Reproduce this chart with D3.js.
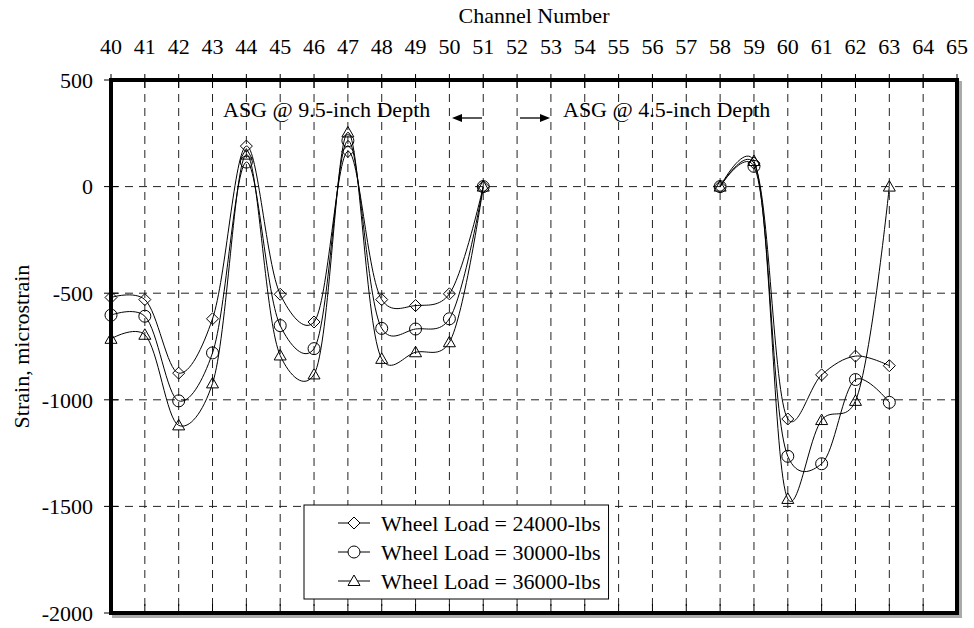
<!DOCTYPE html>
<html>
<head>
<meta charset="utf-8">
<script src="https://cdn.jsdelivr.net/npm/d3@7"></script>
<style>
  body { margin: 0; background: #fff; }
  text { font-family: "Liberation Serif", "Times New Roman", serif; fill: #000; }
  .tick-label { font-size: 22px; }
  .label { font-size: 22px; }
</style>
</head>
<body>
<svg id="chart" width="974" height="628"></svg>
<script>
// channels, two gauge groups (gap between 51 and 58)
const channelsDeep = [40, 41, 42, 43, 44, 45, 46, 47, 48, 49, 50, 51]
const channelsShallow = [58, 59, 60, 61, 62, 63]
const channelTicks = d3.range(40, 66)
const strainTicks = [500, 0, -500, -1000, -1500, -2000]

// strain, microstrain
const load24Deep = [-520, -530, -875, -620, 190, -505, -635, 165, -530, -558, -503, 0]
const load24Shallow = [0, 110, -1090, -883, -795, -840]
const load30Deep = [-603, -608, -1005, -780, 115, -652, -760, 215, -665, -668, -620, 0]
const load30Shallow = [0, 95, -1265, -1300, -905, -1012]
const load36Deep = [-714, -695, -1120, -923, 150, -792, -881, 254, -808, -777, -730, 0]
const load36Shallow = [0, 120, -1465, -1095, -1005, 0]

const seriesNames = ["Wheel Load = 24000-lbs", "Wheel Load = 30000-lbs", "Wheel Load = 36000-lbs"]
const seriesMarkers = ["diamond", "circle", "triangle"]

const series = [
    {name: seriesNames[0], marker: seriesMarkers[0], parts: [load24Deep, load24Shallow]},
    {name: seriesNames[1], marker: seriesMarkers[1], parts: [load30Deep, load30Shallow]},
    {name: seriesNames[2], marker: seriesMarkers[2], parts: [load36Deep, load36Shallow]}
]
const partChannels = [channelsDeep, channelsShallow]

const pLeft = 111, pRight = 957, pTop = 80, pBottom = 613

let xScale = d3.scaleLinear().domain([40, 65]).range([pLeft, pRight])
let yScale = d3.scaleLinear().domain([-2000, 500]).range([pBottom, pTop])

let svg = d3.select("#chart")

function markerPath(type, s) {
    if (type === "diamond") {
        return `M0,${-s}L${s},0L0,${s}L${-s},0Z`
    }
    if (type === "triangle") {
        return `M0,${-s}L${s},${s * 0.75}L${-s},${s * 0.75}Z`
    }
    return `M${s},0A${s},${s} 0 1,1 ${-s},0A${s},${s} 0 1,1 ${s},0Z`
}

// shadow + plot background
svg.append("rect")
    .attr("x", pLeft + 3).attr("y", pTop + 3)
    .attr("width", pRight - pLeft).attr("height", pBottom - pTop)
    .style("fill", "none").style("stroke", "#aaa").style("stroke-width", 4)

svg.append("rect")
    .attr("x", pLeft).attr("y", pTop)
    .attr("width", pRight - pLeft).attr("height", pBottom - pTop)
    .style("fill", "#fff")

// grid
let grid = svg.append("g")
grid.selectAll(".vgrid")
    .data(channelTicks.filter(d => d > 40 && d < 65))
    .enter()
    .append("line")
    .attr("x1", d => xScale(d)).attr("x2", d => xScale(d))
    .attr("y1", pTop).attr("y2", pBottom)
    .style("stroke", "#222").style("stroke-width", 1).style("stroke-dasharray", "8,6")
grid.selectAll(".hgrid")
    .data(strainTicks.filter(d => d > -2000 && d < 500))
    .enter()
    .append("line")
    .attr("x1", pLeft).attr("x2", pRight)
    .attr("y1", d => yScale(d)).attr("y2", d => yScale(d))
    .style("stroke", "#222").style("stroke-width", 1).style("stroke-dasharray", "8,6")

// ticks: top crossing, bottom inside, left crossing
svg.append("g").selectAll("line")
    .data(channelTicks)
    .enter()
    .append("line")
    .attr("x1", d => xScale(d)).attr("x2", d => xScale(d))
    .attr("y1", pTop - 6).attr("y2", pTop + 8)
    .style("stroke", "#000")
svg.append("g").selectAll("line")
    .data(channelTicks)
    .enter()
    .append("line")
    .attr("x1", d => xScale(d)).attr("x2", d => xScale(d))
    .attr("y1", pBottom - 9).attr("y2", pBottom)
    .style("stroke", "#000")
svg.append("g").selectAll("line")
    .data(strainTicks)
    .enter()
    .append("line")
    .attr("x1", pLeft - 7).attr("x2", pLeft + 7)
    .attr("y1", d => yScale(d)).attr("y2", d => yScale(d))
    .style("stroke", "#000")

// tick labels
svg.append("g").selectAll("text")
    .data(channelTicks)
    .enter()
    .append("text")
    .attr("class", "tick-label")
    .attr("x", d => xScale(d)).attr("y", 54)
    .attr("text-anchor", "middle")
    .text(d => d)
svg.append("g").selectAll("text")
    .data(strainTicks)
    .enter()
    .append("text")
    .attr("class", "tick-label")
    .attr("x", 93).attr("y", d => yScale(d))
    .attr("dy", "0.35em")
    .attr("text-anchor", "end")
    .text(d => d)

// axis titles
svg.append("text")
    .attr("class", "label")
    .attr("x", (pLeft + pRight) / 2).attr("y", 23)
    .attr("text-anchor", "middle")
    .text("Channel Number")
svg.append("g")
    .attr("transform", `translate(${29},${(pTop + pBottom) / 2}) rotate(270)`)
    .append("text")
    .attr("class", "label")
    .attr("text-anchor", "middle")
    .text("Strain, microstrain")

// annotations
svg.append("text")
    .attr("class", "label")
    .attr("x", 223).attr("y", 117)
    .text("ASG @ 9.5-inch Depth")
svg.append("text")
    .attr("class", "label")
    .attr("x", 563).attr("y", 117)
    .text("ASG @ 4.5-inch Depth")

function arrow(x1, x2, y) {
    let dir = x2 > x1 ? 1 : -1
    svg.append("line")
        .attr("x1", x1).attr("x2", x2 - dir * 6)
        .attr("y1", y).attr("y2", y)
        .style("stroke", "#000").style("stroke-width", 1.3)
    svg.append("path")
        .attr("d", `M${x2},${y}L${x2 - dir * 10},${y - 4}L${x2 - dir * 10},${y + 4}Z`)
        .style("fill", "#000")
}
arrow(482, 452, 118)
arrow(520, 550, 118)

// data lines (smoothed)
let line = d3.line()
    .x(d => xScale(d.x))
    .y(d => yScale(d.y))
    .curve(d3.curveCatmullRom.alpha(0.25))

let plot = svg.append("g")
series.forEach(function (s) {
    s.parts.forEach(function (vals, p) {
        let pts = vals.map((v, i) => ({x: partChannels[p][i], y: v}))
        plot.append("path")
            .datum(pts)
            .attr("d", line)
            .style("fill", "none").style("stroke", "#000").style("stroke-width", 1)
        plot.selectAll(null)
            .data(pts)
            .enter()
            .append("path")
            .attr("transform", d => `translate(${xScale(d.x)},${yScale(d.y)})`)
            .attr("d", markerPath(s.marker, 6))
            .style("fill", "none").style("stroke", "#000").style("stroke-width", 1)
    })
})

// frame
svg.append("rect")
    .attr("x", pLeft).attr("y", pTop)
    .attr("width", pRight - pLeft).attr("height", pBottom - pTop)
    .style("fill", "none").style("stroke", "#000").style("stroke-width", 4)

// legend
let legend = svg.append("g")
let legendBox = legend.append("rect")
    .attr("x", 304).attr("y", 505)
    .attr("height", 94)
    .style("fill", "#fff").style("stroke", "#000").style("stroke-width", 1)
let maxW = 0
series.forEach(function (s, i) {
    let y = 523 + i * 29
    legend.append("line")
        .attr("x1", 338).attr("x2", 370)
        .attr("y1", y).attr("y2", y)
        .style("stroke", "#000")
    legend.append("path")
        .attr("transform", `translate(${354},${y})`)
        .attr("d", markerPath(s.marker, 6))
        .style("fill", "#fff").style("stroke", "#000")
    let t = legend.append("text")
        .attr("class", "label")
        .attr("x", 381).attr("y", y)
        .attr("dy", "0.35em")
        .text(s.name)
    maxW = Math.max(maxW, t.node().getComputedTextLength())
})
legendBox.attr("width", 381 + maxW + 8 - 304)
</script>
</body>
</html>
